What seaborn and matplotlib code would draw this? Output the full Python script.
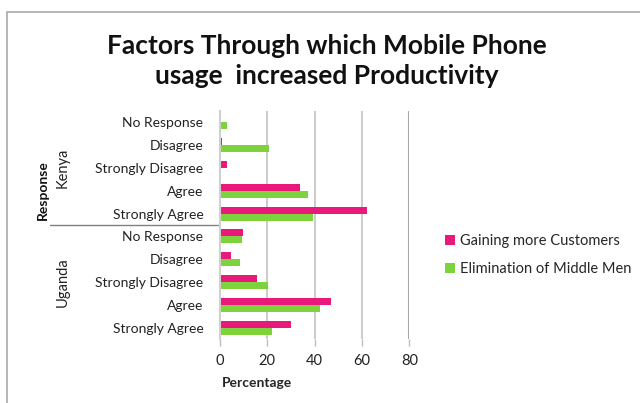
import matplotlib
matplotlib.use("Agg")
import matplotlib.pyplot as plt
import matplotlib.transforms as mtransforms
from matplotlib.patches import Rectangle
from matplotlib.lines import Line2D
import pandas as pd
import seaborn as sns

# Survey data: percentage of respondents per response category
countries = ["Kenya"] * 5 + ["Uganda"] * 5
responses = ["No Response", "Disagree", "Strongly Disagree", "Agree", "Strongly Agree"] * 2
gaining_customers = [0, 1, 3, 34, 62, 9.6, 4.5, 15.6, 47, 30]
eliminating_middlemen = [3, 20.5, 0, 37.3, 39.3, 9.3, 8.3, 20.3, 42.3, 22]
series_names = ["Gaining more Customers", "Elimination of Middle Men"]
series_colors = ["#E8197A", "#7ED23B"]
x_ticks = [0, 20, 40, 60, 80]

W, H = 640, 403
sns.set_theme(style="white")
plt.rcParams["font.family"] = ["Lato", "DejaVu Sans"]

keys = [f"{c}|{r}" for c, r in zip(countries, responses)]
df = pd.DataFrame({
    "key": keys * 2,
    "value": gaining_customers + eliminating_middlemen,
    "series": [series_names[0]] * len(keys) + [series_names[1]] * len(keys),
})

fig = plt.figure(figsize=(W / 100, H / 100), dpi=100)
ax = fig.add_axes([220 / W, 1 - 339 / H, (409.3 - 220) / W, (339 - 111) / H])

sns.barplot(data=df, x="value", y="key", hue="series", order=keys,
            hue_order=series_names, palette=series_colors, width=0.62,
            orient="h", saturation=1, linewidth=0, legend=True, ax=ax)

ax.set_xlim(0, 80)
ax.set_xticks(x_ticks)
ax.set_xticklabels([str(t) for t in x_ticks], fontsize=10.5, color="#222222")
ax.set_yticks(range(len(keys)))
ax.set_yticklabels(responses, fontsize=10, color="#222222")
ax.tick_params(axis="y", length=0, pad=12)
ax.tick_params(axis="x", length=5, color="#bfbfbf", width=1, pad=6, direction="out", bottom=True)
ax.set_ylabel("")
ax.set_xlabel("Percentage", fontsize=10, fontweight="bold")
ax.xaxis.set_label_coords((257 - 220) / (409.3 - 220), (339 - 383) / (339 - 111))
ax.xaxis.label.set_va("center")

for side in ["top", "right", "bottom"]:
    ax.spines[side].set_visible(False)
ax.spines["left"].set_color("#d0d0d0")
ax.spines["left"].set_linewidth(1.5)

for t in x_ticks[1:]:
    ax.axvline(t, color="#a8a8a8" if t == 80 else "#bdbdbd",
               lw=2.2 if t == 80 else 1.1, zorder=0)

# Country group labels and axis title
blend = mtransforms.blended_transform_factory(fig.transFigure, ax.transData)
ax.text(63 / W, 2, "Kenya", rotation=90, ha="center", va="center",
        fontsize=10.5, color="#222222", transform=blend)
ax.text(63 / W, 7, "Uganda", rotation=90, ha="center", va="center",
        fontsize=10.5, color="#222222", transform=blend)
fig.text(43 / W, 1 - 190 / H, "Response", rotation=90, ha="center", va="center",
         fontsize=10, fontweight="bold", color="#111111")
ax.add_line(Line2D([50 / W, 220 / W], [4.5, 4.5], transform=blend,
                   color="#808080", lw=1, clip_on=False))

# Title
fig.text(327 / W, 1 - 61 / H, "Factors Through which Mobile Phone\nusage  increased Productivity",
         ha="center", va="center", fontsize=19, fontweight="bold",
         color="#111111", linespacing=1.3)

# Legend
handles, labels = ax.get_legend_handles_labels()
ax.legend(handles, labels, loc="upper left", bbox_to_anchor=(432 / W, 1 - 221 / H),
          bbox_transform=fig.transFigure, frameon=False, fontsize=10.5,
          handlelength=0.65, handleheight=0.65, handletextpad=0.4, labelspacing=0.95)

# Chart frame
fig.add_artist(Rectangle((7 / W, -0.1), 1.2, 1 - 12 / H + 0.1, transform=fig.transFigure,
                         fill=False, edgecolor="#b0b0b0", lw=1.3))

fig.savefig("out.png", dpi=100)
